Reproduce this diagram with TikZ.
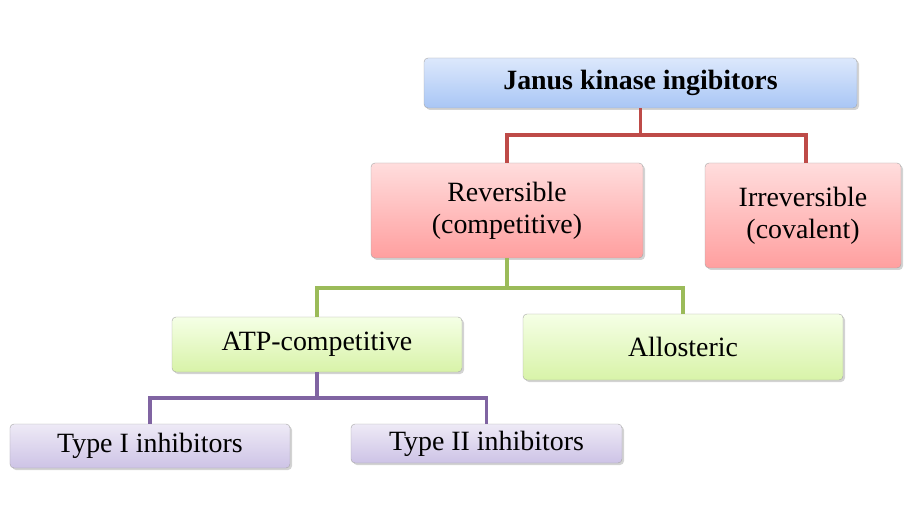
\documentclass[tikz,border=0pt]{standalone}
\usepackage{fontspec}
\setmainfont{Liberation Serif}
\usetikzlibrary{shadows}
\definecolor{bT}{HTML}{DCE8FC}\definecolor{bB}{HTML}{A9C6F5}
\definecolor{rT}{HTML}{FFDDDD}\definecolor{rB}{HTML}{FF9F9F}
\definecolor{gT}{HTML}{F5FFE6}\definecolor{gB}{HTML}{D8F3A8}
\definecolor{pT}{HTML}{EEEAF6}\definecolor{pB}{HTML}{CDC3E6}
\definecolor{lr}{HTML}{BE4B48}\definecolor{lg}{HTML}{9BBB59}\definecolor{lp}{HTML}{8064A2}
\begin{document}
\begin{tikzpicture}[x=1bp,y=-1bp,
 box/.style={draw=gray!70,rounded corners=4bp,drop shadow={shadow xshift=2bp,shadow yshift=-2bp,opacity=0.35},align=center,font=\fontsize{28}{32}\selectfont,inner sep=0pt},
 bl/.style={box,top color=bT,bottom color=bB},
 rd/.style={box,top color=rT,bottom color=rB},
 gr/.style={box,top color=gT,bottom color=gB},
 pu/.style={box,top color=pT,bottom color=pB},
 con/.style={line width=3.5bp}]
\useasboundingbox (0,0) rectangle (918,525);
\node[bl,minimum width=433bp,minimum height=50bp,font=\fontsize{28}{32}\selectfont\bfseries] (j) at (640.5,83) {Janus kinase ingibitors};
\node[rd,minimum width=272bp,minimum height=95bp] (r) at (507,210.5) {Reversible\\(competitive)};
\node[rd,minimum width=196bp,minimum height=105bp] (i) at (803,215.5) {Irreversible\\(covalent)};
\node[gr,minimum width=290bp,minimum height=55bp] (a) at (317,344.5) {ATP-competitive};
\node[gr,minimum width=320bp,minimum height=66bp] (al) at (683,347) {Allosteric};
\node[pu,minimum width=280bp,minimum height=44bp] (t1) at (150,446) {Type I inhibitors};
\node[pu,minimum width=271bp,minimum height=39bp] (t2) at (486.5,443.5) {Type II inhibitors};
\draw[con,lr] (j.south) -- ++(0,27) -| (r.north);
\draw[con,lr] (j.south) ++(0,27) -| (806,163);
\draw[con,lg] (r.south) -- ++(0,30) -| (a.north);
\draw[con,lg] (r.south) ++(0,30) -| (al.north);
\draw[con,lp] (a.south) -- ++(0,26) -| (t1.north);
\draw[con,lp] (a.south) ++(0,26) -| (t2.north);
\end{tikzpicture}
\end{document}
